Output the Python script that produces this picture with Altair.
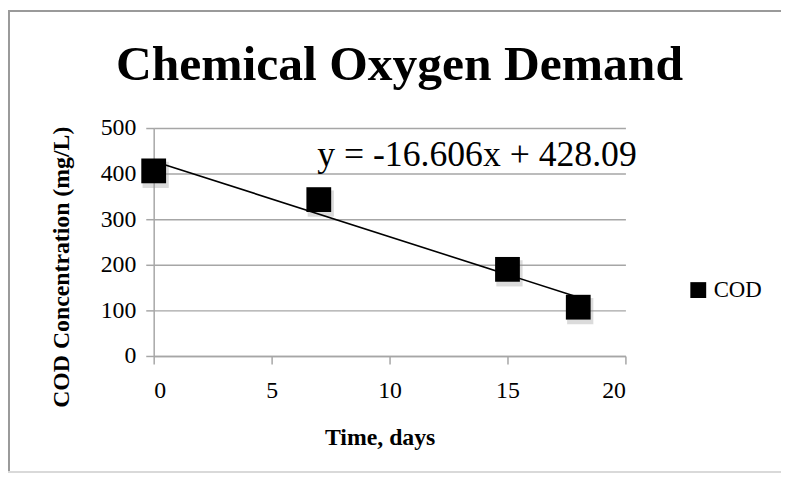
import altair as alt
import pandas as pd

days = [0, 7, 15, 18]
cod = [406, 343, 190, 107]
series = ["COD", "COD", "COD", "COD"]
equation = ["y = -16.606x + 428.09"]
chart_title = ["Chemical Oxygen Demand"]
x_ticks = [0, 5, 10, 15, 20]
y_ticks = [0, 100, 200, 300, 400, 500]

df = pd.DataFrame({"day": days, "cod": cod, "series": series})
eq_df = pd.DataFrame({"label": equation})
title_df = pd.DataFrame({"label": chart_title})
frame_df = pd.DataFrame({"f": [0]})

FONT = "Liberation Serif"
GRID = "#a6a6a6"
FRAME = "#9a9a9a"

x_enc = alt.X("day:Q", scale=alt.Scale(domain=[0, 20], nice=False),
              axis=alt.Axis(values=x_ticks, title="Time, days", grid=False,
                            titleX=228, titleY=89, titleBaseline="alphabetic"))
y_enc = alt.Y("cod:Q", scale=alt.Scale(domain=[0, 500], nice=False),
              axis=alt.Axis(values=y_ticks, title="COD Concentration (mg/L)",
                            titleX=-93, titleY=140, titleBaseline="middle"))

# chart frame drawn as thin filled bands (left, top, bottom)
frame_left = alt.Chart(frame_df).mark_rect(fill=FRAME, strokeWidth=0).encode(
    x=alt.value(-147), x2=alt.value(-145), y=alt.value(-119), y2=alt.value(348)
)
frame_top = alt.Chart(frame_df).mark_rect(fill=FRAME, strokeWidth=0).encode(
    x=alt.value(-147), x2=alt.value(633), y=alt.value(-119), y2=alt.value(-117)
)
frame_bottom = alt.Chart(frame_df).mark_rect(fill="#d9d9d9", strokeWidth=0).encode(
    x=alt.value(-147), x2=alt.value(633), y=alt.value(346), y2=alt.value(348)
)

shadow = alt.Chart(df).mark_square(size=700, color="#999999", opacity=0.35,
                                   xOffset=2, yOffset=4).encode(x=x_enc, y=y_enc)

trend = alt.Chart(df).mark_line(color="black", strokeWidth=1.6).transform_regression(
    "day", "cod"
).encode(x=x_enc, y=y_enc)

points = alt.Chart(df).mark_square(size=625, opacity=1, filled=True).encode(
    x=x_enc, y=y_enc,
    color=alt.Color("series:N", scale=alt.Scale(domain=["COD"], range=["black"]),
                    legend=alt.Legend(title=None, orient="none", legendX=538, legendY=152,
                                      symbolType="square", symbolSize=256,
                                      labelFontSize=23, labelFont=FONT,
                                      labelColor="black", labelOffset=4,
                                      symbolStrokeWidth=0)),
)

eq = alt.Chart(eq_df).mark_text(font=FONT, fontSize=36, align="left",
                                baseline="alphabetic", color="black").encode(
    x=alt.value(165), y=alt.value(38), text="label:N"
)

title = alt.Chart(title_df).mark_text(font=FONT, fontSize=50, fontWeight="bold",
                                      align="center", baseline="alphabetic",
                                      color="black").encode(
    x=alt.value(248), y=alt.value(-48), text="label:N"
)

chart = alt.layer(frame_left, frame_top, frame_bottom, shadow, trend, points, eq, title).properties(
    width=476, height=230,
    autosize=alt.AutoSizeParams(type="none"),
    padding={"left": 147, "top": 119, "right": 159, "bottom": 119},
).configure_view(stroke=None).configure_axis(
    labelFont=FONT, titleFont=FONT, labelFontSize=24, titleFontSize=24,
    labelColor="black", titleColor="black", titleFontWeight="bold",
    domainColor=GRID, tickColor=GRID, gridColor=GRID, domainWidth=1.5,
    tickWidth=1.5, gridWidth=1.5, tickSize=8,
).configure_axisY(labelPadding=10).configure_axisX(labelPadding=15)

chart.save("out.html", embed_options={"renderer": "svg", "actions": False})
